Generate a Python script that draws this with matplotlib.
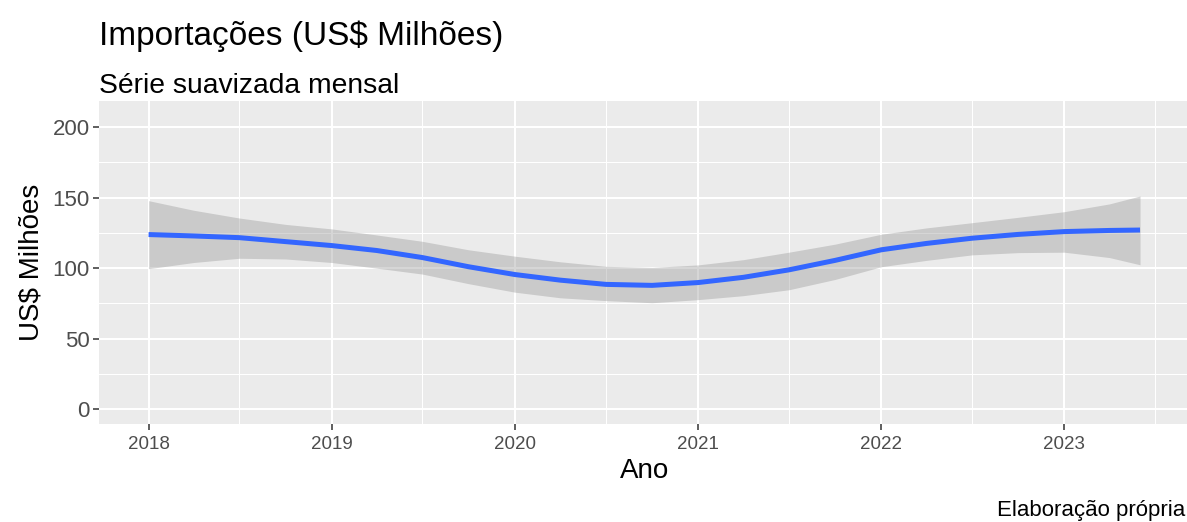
import pandas as pd
import matplotlib.pyplot as plt
import matplotlib.dates as mdates
from matplotlib.ticker import MultipleLocator

plt.rcParams['font.family'] = ['Liberation Sans', 'DejaVu Sans']

# Série suavizada (leitura aproximada do gráfico)
datas = ["2018-01-01", "2018-04-01", "2018-07-01", "2018-10-01",
         "2019-01-01", "2019-04-01", "2019-07-01", "2019-10-01",
         "2020-01-01", "2020-04-01", "2020-07-01", "2020-10-01",
         "2021-01-01", "2021-04-01", "2021-07-01", "2021-10-01",
         "2022-01-01", "2022-04-01", "2022-07-01", "2022-10-01",
         "2023-01-01", "2023-04-01", "2023-06-01"]
suave = [123.8, 122.8, 121.6, 118.8, 116.0, 112.5, 107.5, 101.0,
         95.5, 91.5, 88.5, 87.8, 89.8, 93.5, 98.8, 105.5,
         113.0, 117.5, 121.2, 123.9, 125.9, 126.7, 127.0]
sup = [147.8, 141.0, 135.5, 131.0, 127.8, 123.5, 119.0, 113.0,
       108.5, 104.5, 101.3, 100.5, 102.3, 106.0, 111.3, 117.0,
       124.0, 128.5, 132.2, 136.0, 140.0, 145.5, 151.1]
inf = [99.6, 104.0, 107.0, 106.5, 104.0, 100.0, 95.8, 89.0,
       83.0, 79.0, 77.0, 75.5, 77.7, 80.5, 84.7, 92.0,
       101.0, 105.5, 109.4, 111.0, 111.3, 107.5, 102.4]

x = pd.to_datetime(datas)

fig = plt.figure(figsize=(11.87, 5.22), dpi=100)
W, H = 1187, 522
ax = fig.add_axes([99 / W, (H - 424) / H, (1189.6 - 99) / W, (424 - 101) / H])

ax.set_facecolor('#EBEBEB')
ax.fill_between(x, inf, sup, color='#999999', alpha=0.4, linewidth=0, zorder=2)
ax.plot(x, suave, color='#3366FF', linewidth=3.6, zorder=3, solid_capstyle='butt')

# limites com expansão de 5% como no ggplot
x0 = mdates.date2num(x[0])
x1 = mdates.date2num(x[-1])
pad = (x1 - x0) * 0.05
ax.set_xlim(x0 - pad, x1 + pad)
ax.set_ylim(-10.4, 218.4)

ax.xaxis.set_major_locator(mdates.YearLocator())
ax.xaxis.set_minor_locator(mdates.MonthLocator(bymonth=7))
ax.xaxis.set_major_formatter(mdates.DateFormatter('%Y'))
ax.yaxis.set_major_locator(MultipleLocator(50))
ax.yaxis.set_minor_locator(MultipleLocator(25))

ax.grid(which='major', color='white', linewidth=1.5, zorder=1)
ax.grid(which='minor', color='white', linewidth=0.75, zorder=1)
ax.set_axisbelow(True)
for s in ax.spines.values():
    s.set_visible(False)

ax.tick_params(axis='both', which='major', length=4.5, width=1.1, color='#333333')
ax.tick_params(axis='both', which='minor', length=0)
ax.tick_params(axis='y', labelsize=16, labelcolor='#4D4D4D', pad=2)
ax.tick_params(axis='x', labelsize=13.5, labelcolor='#4D4D4D', pad=4)

ax.set_xlabel('Ano', fontsize=20, labelpad=4)
ax.set_ylabel('US$ Milhões', fontsize=20, labelpad=6)

fig.text(99 / W, 1 - 45 / H, 'Importações (US$ Milhões)', fontsize=24, va='baseline', ha='left')
fig.text(99 / W, 1 - 93 / H, 'Série suavizada mensal', fontsize=20.3, va='baseline', ha='left')
fig.text(1185 / W, 1 - 516 / H, 'Elaboração própria', fontsize=16, va='baseline', ha='right')

fig.savefig('out.png', dpi=100)
